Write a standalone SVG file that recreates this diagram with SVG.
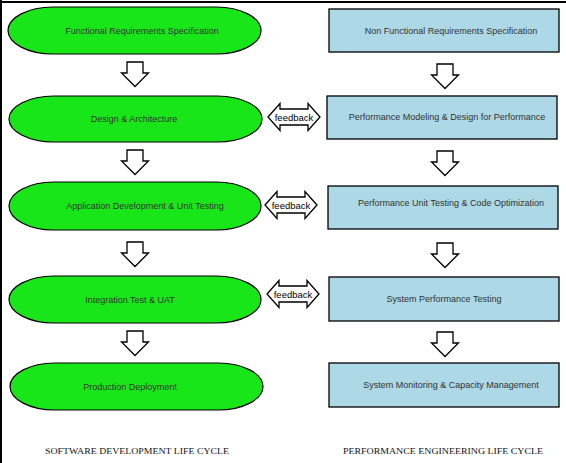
<svg xmlns="http://www.w3.org/2000/svg" xmlns:xlink="http://www.w3.org/1999/xlink" width="566" height="463" viewBox="0 0 566 463">
<style>
.pill{fill:#19e619;stroke:#000;stroke-width:1.2}
.box{fill:#add8e6;stroke:#000;stroke-width:1.3}
.arr{fill:#fff;stroke:#000;stroke-width:1.3;stroke-linejoin:miter}
.t{font-family:"Liberation Sans",Arial,sans-serif;font-size:9px;fill:#333;text-anchor:middle;dominant-baseline:central}
.fb{font-family:"Liberation Sans",Arial,sans-serif;font-size:9.5px;fill:#000;text-anchor:middle;dominant-baseline:central}
.cap{font-family:"Liberation Serif","Times New Roman",serif;font-size:8.6px;fill:#111;text-anchor:start}
</style>
<defs>
<polygon id="dl" class="arr" points="-8,0 8,0 8,11 13.5,11 0,24.5 -13.5,11 -8,11"/>
<polygon id="fbk" class="arr" points="0,0 12,-13.5 12,-8 40,-8 40,-13.5 52,0 40,13.5 40,8 12,8 12,13.5"/>
</defs>
<rect width="566" height="463" fill="#fff"/>
<g id="frame">
<line x1="0" y1="2" x2="566" y2="2" stroke="#000" stroke-width="2"/>
<line x1="1" y1="0" x2="1" y2="463" stroke="#000" stroke-width="2"/>
</g>
<g id="n1"><rect class="pill" x="8" y="7" width="253" height="47" rx="45" ry="23.5"/><text class="t" x="142" y="30.5">Functional Requirements Specification</text></g>
<g id="n2"><rect class="pill" x="9" y="96" width="253" height="46" rx="45" ry="23"/><text class="t" x="134" y="119">Design &amp; Architecture</text></g>
<g id="n3"><rect class="pill" x="9" y="182" width="252" height="48" rx="45" ry="24"/><text class="t" x="145" y="206">Application Development &amp; Unit Testing</text></g>
<g id="n4"><rect class="pill" x="9" y="276" width="252" height="47" rx="45" ry="23.5"/><text class="t" x="130" y="300">Integration Test &amp; UAT</text></g>
<g id="n5"><rect class="pill" x="10" y="363" width="253" height="47" rx="45" ry="23.5"/><text class="t" x="130" y="387">Production Deployment</text></g>
<g id="p1"><rect class="box" x="329" y="9" width="230" height="43"/><text class="t" x="451" y="30.5">Non Functional Requirements Specification</text></g>
<g id="p2"><rect class="box" x="327" y="96" width="230" height="43"/><text class="t" x="447" y="116.5">Performance Modeling &amp; Design for Performance</text></g>
<g id="p3"><rect class="box" x="328" y="186" width="230" height="43"/><text class="t" x="451" y="202.5">Performance Unit Testing &amp; Code Optimization</text></g>
<g id="p4"><rect class="box" x="329" y="277" width="230" height="44"/><text class="t" x="444" y="299">System Performance Testing</text></g>
<g id="p5"><rect class="box" x="329" y="363" width="230" height="44"/><text class="t" x="451" y="385">System Monitoring &amp; Capacity Management</text></g>
<g id="connectors">
<use xlink:href="#dl" x="135" y="62"/>
<use xlink:href="#dl" x="135" y="150"/>
<use xlink:href="#dl" x="135" y="242"/>
<use xlink:href="#dl" x="135" y="331"/>
<use xlink:href="#dl" x="445" y="64"/>
<use xlink:href="#dl" x="445" y="151"/>
<use xlink:href="#dl" x="445" y="243"/>
<use xlink:href="#dl" x="445" y="332"/>
<use xlink:href="#fbk" x="268" y="117"/>
<use xlink:href="#fbk" x="265" y="205"/>
<use xlink:href="#fbk" x="267" y="294"/>
<text class="fb" x="294" y="117">feedback</text>
<text class="fb" x="291" y="205">feedback</text>
<text class="fb" x="293" y="294">feedback</text>
</g>
<g id="captions">
<text class="cap" x="45" y="454" textLength="184" lengthAdjust="spacingAndGlyphs">SOFTWARE DEVELOPMENT LIFE CYCLE</text>
<text class="cap" x="343" y="454" textLength="200" lengthAdjust="spacingAndGlyphs">PERFORMANCE ENGINEERING LIFE CYCLE</text>
</g>
</svg>
